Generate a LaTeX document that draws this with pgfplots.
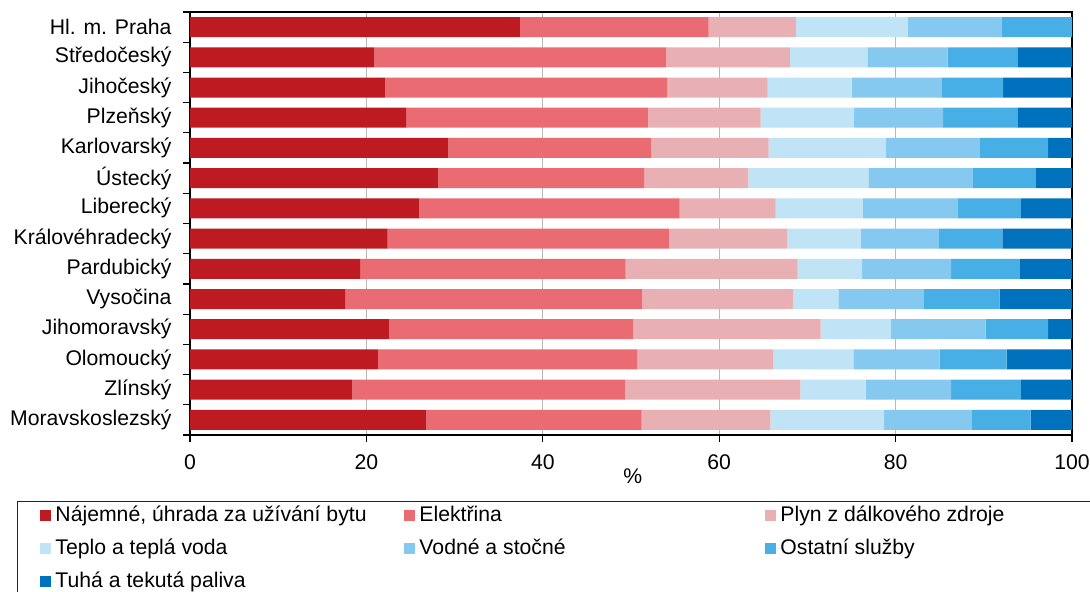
\documentclass[border=0pt]{standalone}
\usepackage{pgfplots}
\usepackage{pgfplotstable}
\pgfplotsset{compat=1.18}
\usepackage{fontspec}
\setmainfont{Liberation Sans}

\definecolor{c1}{HTML}{BE1A22}
\definecolor{c2}{HTML}{EB6B73}
\definecolor{c3}{HTML}{E8B0B3}
\definecolor{c4}{HTML}{C0E4F6}
\definecolor{c5}{HTML}{85C8F0}
\definecolor{c6}{HTML}{48AEE6}
\definecolor{c7}{HTML}{0071BD}

% shares in %, one row per region (0 = top)
\pgfplotstableread{
y  najem elek plyn teplo voda ostatni paliva
0  37.4  21.4 9.9  12.7  10.6 8.0     0.0
1  20.9  33.1 14.0 8.8   9.1  7.9     6.2
2  22.1  32.0 11.4 9.5   10.2 7.0     7.8
3  24.5  27.4 12.8 10.6  10.1 8.4     6.2
4  29.3  23.0 13.3 13.3  10.6 7.8     2.7
5  28.1  23.4 11.8 13.6  11.8 7.2     4.1
6  26.0  29.5 10.9 9.9   10.8 7.1     5.8
7  22.4  31.9 13.4 8.4   8.8  7.2     7.9
8  19.3  30.1 19.5 7.3   10.1 7.8     5.9
9  17.6  33.7 17.1 5.1   9.7  8.6     8.2
10 22.6  27.6 21.3 8.0   10.7 7.1     2.7
11 21.3  29.4 15.4 9.1   9.8  7.6     7.4
12 18.4  30.9 19.9 7.4   9.7  7.9     5.8
13 26.8  24.4 14.6 12.9  9.9  6.7     4.7
}\data

\begin{document}
\fontsize{10.6}{12.7}\selectfont
\begin{tikzpicture}
\useasboundingbox (0,0) rectangle (545pt,296pt);
\clip (0,0) rectangle (545pt,296pt);
\begin{axis}[
  at={(95pt,78.5pt)}, anchor=south west,
  scale only axis, width=441pt, height=211.5pt,
  xbar stacked, bar width=10pt,
  xmin=0, xmax=100, ymin=-0.5, ymax=13.5,
  y dir=reverse,
  ytick={0,...,13},
  yticklabels={Hl. m. Praha,Středočeský,Jihočeský,Plzeňský,Karlovarský,Ústecký,Liberecký,Královéhradecký,Pardubický,Vysočina,Jihomoravský,Olomoucký,Zlínský,Moravskoslezský},
  minor ytick={-0.5,0.5,...,13.5},
  major y tick style={draw=none},
  xtick={0,20,...,100},
  tick pos=left, tick align=outside,
  major tick length=3.5pt, minor tick length=3.5pt,
  tick style={black, line width=0.6pt},
  xmajorgrids, grid style={draw=gray!55, line width=0.6pt},
  axis line style={line width=1pt},
  /pgf/number format/assume math mode=true,
  ticklabel style={font=\fontsize{10.6}{12.7}\selectfont},
  yticklabel style={xshift=-2pt},
  xticklabel style={yshift=-2.5pt},
  xlabel={\%},
  xlabel style={at={(axis description cs:0.502,0)}, anchor=center, yshift=-20.5pt},
  legend columns=3,
  legend cell align=left,
  legend image code/.code={\fill[#1, draw=none] (0pt,-2.75pt) rectangle (5.5pt,2.75pt); \path (0pt,0pt) -- (7.5pt,0pt);},
  legend style={
    at={(axis description cs:-0.19615,-0.1551)}, anchor=north west,
    draw=black!85, line width=0.5pt,
    inner xsep=11.5pt, inner ysep=2pt,
    row sep=6pt, column sep=0pt,
    nodes={inner sep=0pt, text height=8pt, text depth=2.5pt},
  },
]
\addplot+[fill=c1, draw=none] table[x=najem, y=y]{\data};
\addlegendentry{\makebox[174.5pt][l]{Nájemné, úhrada za užívání bytu}}
\addplot+[fill=c2, draw=none] table[x=elek, y=y]{\data};
\addlegendentry{\makebox[173pt][l]{Elektřina}}
\addplot+[fill=c3, draw=none] table[x=plyn, y=y]{\data};
\addlegendentry{\makebox[170pt][l]{Plyn z dálkového zdroje}}
\addplot+[fill=c4, draw=none] table[x=teplo, y=y]{\data};
\addlegendentry{\makebox[174.5pt][l]{Teplo a teplá voda}}
\addplot+[fill=c5, draw=none] table[x=voda, y=y]{\data};
\addlegendentry{\makebox[173pt][l]{Vodné a stočné}}
\addplot+[fill=c6, draw=none] table[x=ostatni, y=y]{\data};
\addlegendentry{\makebox[170pt][l]{Ostatní služby}}
\addplot+[fill=c7, draw=none] table[x=paliva, y=y]{\data};
\addlegendentry{\makebox[174.5pt][l]{Tuhá a tekutá paliva}}
\end{axis}
\end{tikzpicture}
\end{document}
